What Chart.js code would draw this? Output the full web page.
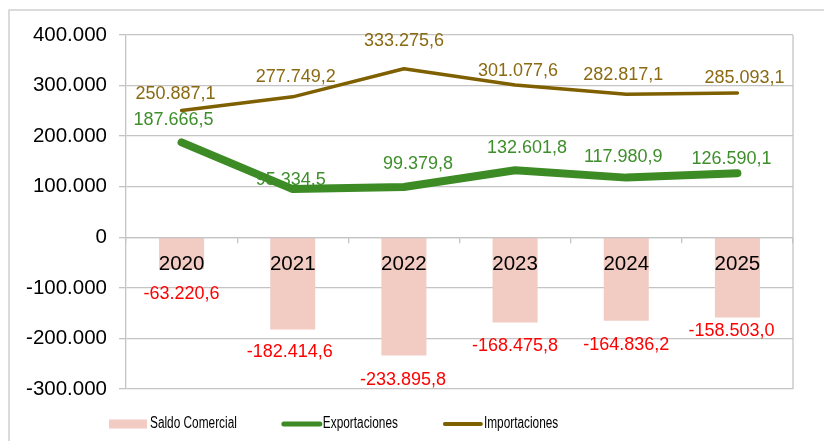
<!DOCTYPE html>
<html>
<head>
<meta charset="utf-8">
<script src="https://cdn.jsdelivr.net/npm/chart.js@4.4.1/dist/chart.umd.min.js"></script>
<style>
    html, body { margin: 0; padding: 0; background: #ffffff; }
    canvas { display: block; }
</style>
</head>
<body>
<canvas id="tradeChart" width="824" height="441"></canvas>
<script>
// Data
const YEARS = ['2020', '2021', '2022', '2023', '2024', '2025'];
const SALDO = [-63220.6, -182414.6, -233895.8, -168475.8, -164836.2, -158503.0];
const EXPORTACIONES = [187666.5, 95334.5, 99379.8, 132601.8, 117980.9, 126590.1];
const IMPORTACIONES = [250887.1, 277749.2, 333275.6, 301077.6, 282817.1, 285093.1];
const Y_MIN = -300000;
const Y_MAX = 400000;
const Y_STEP = 100000;

// Colors
const COLORS = {
    saldo: '#F2CBC3',
    saldoText: '#FF0000',
    exp: '#3D8B25',
    expText: '#3E8E2B',
    imp: '#7F6000',
    impText: '#8A6A12',
    grid: '#C4C4C4',
    frame: '#CFCFCF',
    text: '#000000'
};

const FONT = "'Liberation Sans', Arial, sans-serif";

// Hand-placed label nudges (pixels from the point / bar end), like the Excel original
const SALDO_LABEL_DX = [0, -3, -1, 0, 0, -6];
const SALDO_LABEL_DY = [25, 22, 24, 24, 24, 14];
const EXP_LABEL_DX = [-8, -2, 14, 12, -3, -6];
const EXP_LABEL_DY = [-22, -9, -23, -22, -21, -14];
const IMP_LABEL_DX = [-6, 3, 0, 3, -3, 7];
const IMP_LABEL_DY = [-16, -20, -28, -14, -19, -15];

// 1234567.8 -> "1.234.567,8"
function fmtNum(v, decimals) {
    const parts = Math.abs(v).toFixed(decimals).split('.');
    const intPart = parts[0].replace(/\B(?=(\d{3})+(?!\d))/g, '.');
    return (v < 0 ? '-' : '') + intPart + (parts[1] ? ',' + parts[1] : '');
}

// Outer frame + plot border
const framePlugin = {
    id: 'frame',
    beforeDraw(chart) {
        const ctx = chart.ctx;
        ctx.save();
        ctx.fillStyle = '#ffffff';
        ctx.fillRect(0, 0, chart.width, chart.height);
        ctx.strokeStyle = COLORS.frame;
        ctx.lineWidth = 1.5;
        ctx.strokeRect(9, 10, chart.width + 20, chart.height + 20);
        ctx.restore();
    },
    afterDatasetsDraw(chart) {
        const a = chart.chartArea;
        const ctx = chart.ctx;
        ctx.save();
        ctx.strokeStyle = COLORS.grid;
        ctx.lineWidth = 1.3;
        ctx.beginPath();
        ctx.moveTo(a.right, a.top);
        ctx.lineTo(a.right, a.bottom);
        ctx.stroke();
        ctx.restore();
    }
};

// Value labels drawn from the element positions
const valueLabelPlugin = {
    id: 'valueLabels',
    afterDraw(chart) {
        const ctx = chart.ctx;
        ctx.save();
        ctx.font = '18px ' + FONT;
        ctx.textAlign = 'center';
        ctx.textBaseline = 'middle';
        chart.data.datasets.forEach((ds, di) => {
            const meta = chart.getDatasetMeta(di);
            meta.data.forEach((el, i) => {
                ctx.fillStyle = ds.labelColor;
                ctx.fillText(fmtNum(ds.data[i], 1), el.x + ds.labelDx[i], el.y + ds.labelDy[i]);
            });
        });
        ctx.restore();
    }
};

// Legend laid out like the original (left-ish, narrow font, tight symbol/text gap)
const legendPlugin = {
    id: 'customLegend',
    afterDraw(chart) {
        const ctx = chart.ctx;
        const y = 424;
        const squeeze = 0.74; // no narrow face installed, squeeze the regular one
        let x = 109;
        ctx.save();
        ctx.font = '16px ' + FONT;
        ctx.textBaseline = 'middle';
        ctx.textAlign = 'left';
        chart.data.datasets.forEach(ds => {
            if (ds.type === 'bar') {
                ctx.fillStyle = ds.backgroundColor;
                ctx.fillRect(x, y - 4.5, 38, 9);
            } else {
                ctx.strokeStyle = ds.borderColor;
                ctx.lineWidth = ds.borderWidth > 5 ? 5 : 4;
                ctx.lineCap = 'round';
                ctx.beginPath();
                ctx.moveTo(x + 2, y);
                ctx.lineTo(x + 38, y);
                ctx.stroke();
            }
            ctx.fillStyle = COLORS.text;
            ctx.save();
            ctx.translate(x + 41, y);
            ctx.scale(squeeze, 1);
            ctx.fillText(ds.label, 0, 0);
            ctx.restore();
            x += 41 + ctx.measureText(ds.label).width * squeeze + 45;
        });
        ctx.restore();
    }
};

function initChart() {
    const ctx = document.getElementById('tradeChart').getContext('2d');
    return new Chart(ctx, {
        data: {
            labels: YEARS,
            datasets: [
                {
                    type: 'bar',
                    label: 'Saldo Comercial',
                    data: SALDO,
                    backgroundColor: COLORS.saldo,
                    borderWidth: 0,
                    categoryPercentage: 1,
                    barPercentage: 0.405,
                    order: 3,
                    labelColor: COLORS.saldoText,
                    labelDx: SALDO_LABEL_DX,
                    labelDy: SALDO_LABEL_DY
                },
                {
                    type: 'line',
                    label: 'Exportaciones',
                    data: EXPORTACIONES,
                    borderColor: COLORS.exp,
                    backgroundColor: COLORS.exp,
                    borderWidth: 8,
                    borderCapStyle: 'round',
                    borderJoinStyle: 'round',
                    pointRadius: 0,
                    tension: 0,
                    order: 1,
                    labelColor: COLORS.expText,
                    labelDx: EXP_LABEL_DX,
                    labelDy: EXP_LABEL_DY
                },
                {
                    type: 'line',
                    label: 'Importaciones',
                    data: IMPORTACIONES,
                    borderColor: COLORS.imp,
                    backgroundColor: COLORS.imp,
                    borderWidth: 3.5,
                    borderCapStyle: 'round',
                    borderJoinStyle: 'round',
                    pointRadius: 0,
                    tension: 0,
                    order: 2,
                    labelColor: COLORS.impText,
                    labelDx: IMP_LABEL_DX,
                    labelDy: IMP_LABEL_DY
                }
            ]
        },
        options: {
            responsive: false,
            animation: false,
            devicePixelRatio: 1,
            layout: { padding: { left: 10, right: 31, top: 35, bottom: 52 } },
            plugins: {
                legend: { display: false },
                tooltip: { enabled: false }
            },
            scales: {
                x: {
                    type: 'category',
                    position: { y: 0 },
                    offset: true,
                    grid: {
                        drawOnChartArea: false,
                        drawTicks: true,
                        tickLength: 5,
                        offset: true,
                        color: COLORS.grid,
                        lineWidth: 1.3,
                        z: 1
                    },
                    border: { display: true, color: COLORS.grid, width: 1.3, z: 1 },
                    ticks: {
                        z: 1,
                        color: COLORS.text,
                        font: { family: FONT, size: 20.5 },
                        padding: 10,
                        maxRotation: 0
                    }
                },
                y: {
                    min: Y_MIN,
                    max: Y_MAX,
                    afterFit(scale) { scale.width = 116; },
                    grid: {
                        color: COLORS.grid,
                        lineWidth: 1.3,
                        drawTicks: true,
                        tickLength: 7
                    },
                    border: { display: true, color: COLORS.grid, width: 1.3 },
                    ticks: {
                        stepSize: Y_STEP,
                        color: COLORS.text,
                        font: { family: FONT, size: 20.5 },
                        padding: 12,
                        callback: value => fmtNum(value, 0)
                    }
                }
            }
        },
        plugins: [framePlugin, valueLabelPlugin, legendPlugin]
    });
}

document.addEventListener('DOMContentLoaded', initChart);
</script>
</body>
</html>
